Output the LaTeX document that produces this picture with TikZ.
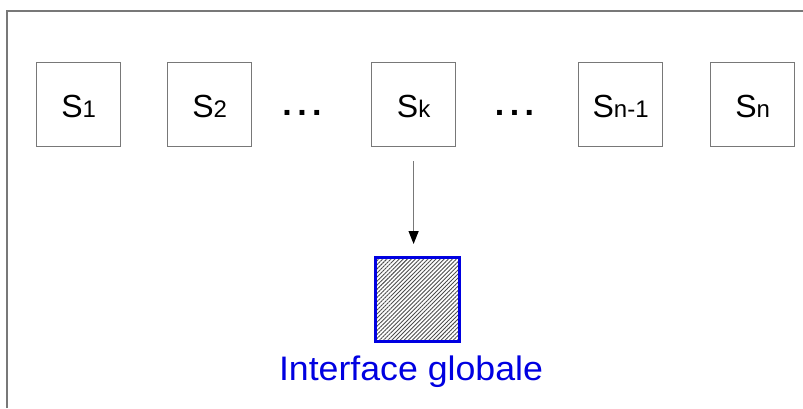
\documentclass[tikz,border=0pt]{standalone}
\usepackage{fontspec}
\setmainfont{Liberation Sans}
\usetikzlibrary{arrows.meta,patterns.meta}
\definecolor{frameg}{RGB}{120,120,120}
\definecolor{ifblue}{RGB}{0,0,225}
\tikzset{
  sbox/.style={draw=frameg,line width=1.2pt,minimum width=84pt,minimum height=84pt,inner sep=0pt,anchor=north west,text height=26pt,text depth=0pt,font=\fontsize{32}{32}\selectfont},
  dots/.style={anchor=base,font=\fontsize{34}{34}\selectfont\bfseries},
}
\newcommand{\sbx}[1]{\fontsize{24}{24}\selectfont #1}
\newcommand{\tdots}{.\kern5.5pt.\kern5.5pt.}
\begin{document}
\begin{tikzpicture}[x=1pt,y=-1pt]
\useasboundingbox (0,0) rectangle (803,408);
\draw[frameg,line width=1.5pt] (7,408) -- (7,11) -- (803,11);
\node[sbox] (s1) at (36,62) {S\sbx{1}};
\node[sbox] (s2) at (167,62) {S\sbx{2}};
\node[sbox] (sk) at (371,62) {S\sbx{k}};
\node[sbox] (sn1) at (578,62) {S\sbx{n-1}};
\node[sbox] (sn) at (710,62) {S\sbx{n}};
\node[dots] (d1) at (302,115) {\tdots};
\node[dots] (d2) at (514.5,115) {\tdots};
\node[draw=ifblue,line width=3.2pt,pattern={Lines[angle=45,distance=2.9pt,line width=0.9pt]},pattern color=black!70,minimum width=84pt,minimum height=84pt,inner sep=0pt,anchor=north west] (g) at (375,257) {};
\node[text=ifblue,font=\fontsize{34}{34}\selectfont,anchor=base,xscale=1.05] (lbl) at (411,380) {Interface globale};
\coordinate (a0) at ([yshift=-14pt]sk.south);
\draw[frameg,line width=1.2pt,-{Triangle[length=13pt,width=10pt,color=black]}] (sk.south |- a0) -- ([yshift=13pt]sk.south |- g.north);
\end{tikzpicture}
\end{document}
